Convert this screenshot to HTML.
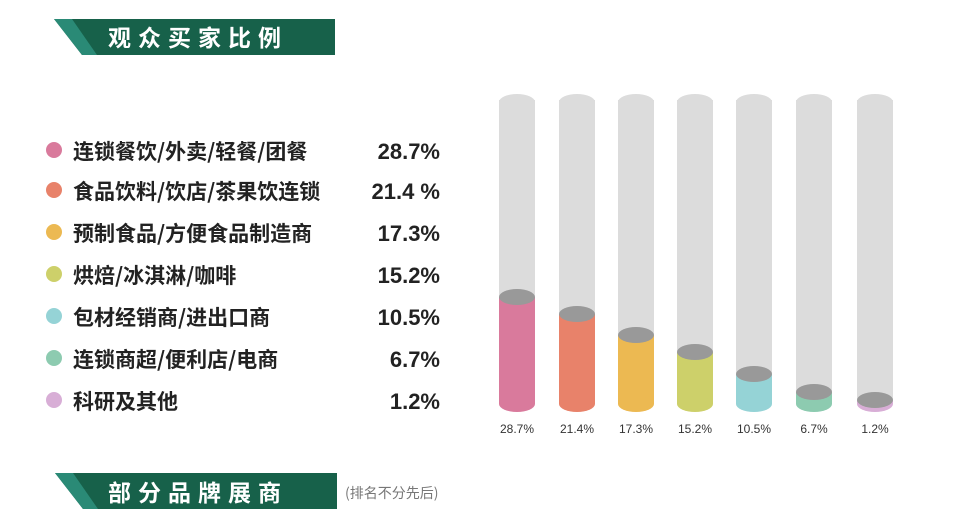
<!DOCTYPE html>
<html><head><meta charset="utf-8"><style>
body{margin:0;width:960px;height:522px;background:#fff;overflow:hidden;position:relative;font-family:"Liberation Sans","Noto Sans CJK SC",sans-serif}
.row{position:absolute;left:44px;width:400px;height:30px;line-height:30px;font-size:21px;font-weight:bold;color:#222}
.row i{position:absolute;left:2px;top:7px;width:16px;height:16px;border-radius:50%}
.row span.t{position:absolute;left:29px;top:1px;font-family:"Noto Sans CJK SC",sans-serif}
.row span.p{position:absolute;right:4px;top:2px;font-size:22px}
</style></head><body>
<svg width="960" height="522" style="position:absolute;left:0;top:0">
<polygon points="54,19 335,19 335,55 82,55" fill="#17614a"/>
<polygon points="54,19 72,19 97,55 82,55" fill="#2a8a76"/>
<text x="108" y="46" font-size="23" font-weight="bold" fill="#fff" letter-spacing="7" font-family="Noto Sans CJK SC,sans-serif">观众买家比例</text>
<polygon points="55,473 337,473 337,509 83,509" fill="#17614a"/>
<polygon points="55,473 73,473 98,509 83,509" fill="#2a8a76"/>
<text x="108" y="501" font-size="23" font-weight="bold" fill="#fff" letter-spacing="7" font-family="Noto Sans CJK SC,sans-serif">部分品牌展商</text>
<text x="345" y="498" font-size="14" fill="#777" font-family="Noto Sans CJK SC,sans-serif">(排名不分先后)</text>
<g font-size="12" fill="#333" text-anchor="middle" font-family="Liberation Sans,sans-serif">
<g id="bars"></g>
</g>
</svg>
<div class="row" style="top:135px"><i style="background:#d97a9c"></i><span class="t">连锁餐饮/外卖/轻餐/团餐</span><span class="p">28.7%</span></div>
<div class="row" style="top:175px"><i style="background:#e8826a"></i><span class="t">食品饮料/饮店/茶果饮连锁</span><span class="p">21.4 %</span></div>
<div class="row" style="top:217px"><i style="background:#ecb952"></i><span class="t">预制食品/方便食品制造商</span><span class="p">17.3%</span></div>
<div class="row" style="top:259px"><i style="background:#cdd06a"></i><span class="t">烘焙/冰淇淋/咖啡</span><span class="p">15.2%</span></div>
<div class="row" style="top:301px"><i style="background:#95d3d6"></i><span class="t">包材经销商/进出口商</span><span class="p">10.5%</span></div>
<div class="row" style="top:343px"><i style="background:#8dcbb0"></i><span class="t">连锁商超/便利店/电商</span><span class="p">6.7%</span></div>
<div class="row" style="top:385px"><i style="background:#d8aed6"></i><span class="t">科研及其他</span><span class="p">1.2%</span></div>
<script>
var d=[[517,297,'#d97a9c','28.7%'],[577,314,'#e8826a','21.4%'],[636,335,'#ecb952','17.3%'],[695,352,'#cdd06a','15.2%'],[754,374,'#95d3d6','10.5%'],[814,392,'#8dcbb0','6.7%'],[875,400,'#d8aed6','1.2%']];
var s='',w=18,ry=8,b=404;
d.forEach(function(e){var x=e[0],y=e[1];
s+='<rect x="'+(x-w)+'" y="100" width="'+2*w+'" height="'+(y-100)+'" fill="#dcdcdc"/><ellipse cx="'+x+'" cy="102" rx="'+w+'" ry="'+ry+'" fill="#dcdcdc"/>';
s+='<rect x="'+(x-w)+'" y="'+y+'" width="'+2*w+'" height="'+(b-y)+'" fill="'+e[2]+'"/><ellipse cx="'+x+'" cy="'+b+'" rx="'+w+'" ry="'+ry+'" fill="'+e[2]+'"/>';
s+='<ellipse cx="'+x+'" cy="'+y+'" rx="'+w+'" ry="'+ry+'" fill="#999"/>';
s+='<text x="'+x+'" y="433">'+e[3]+'</text>';});
document.getElementById('bars').innerHTML=s;
</script>
</body></html>
